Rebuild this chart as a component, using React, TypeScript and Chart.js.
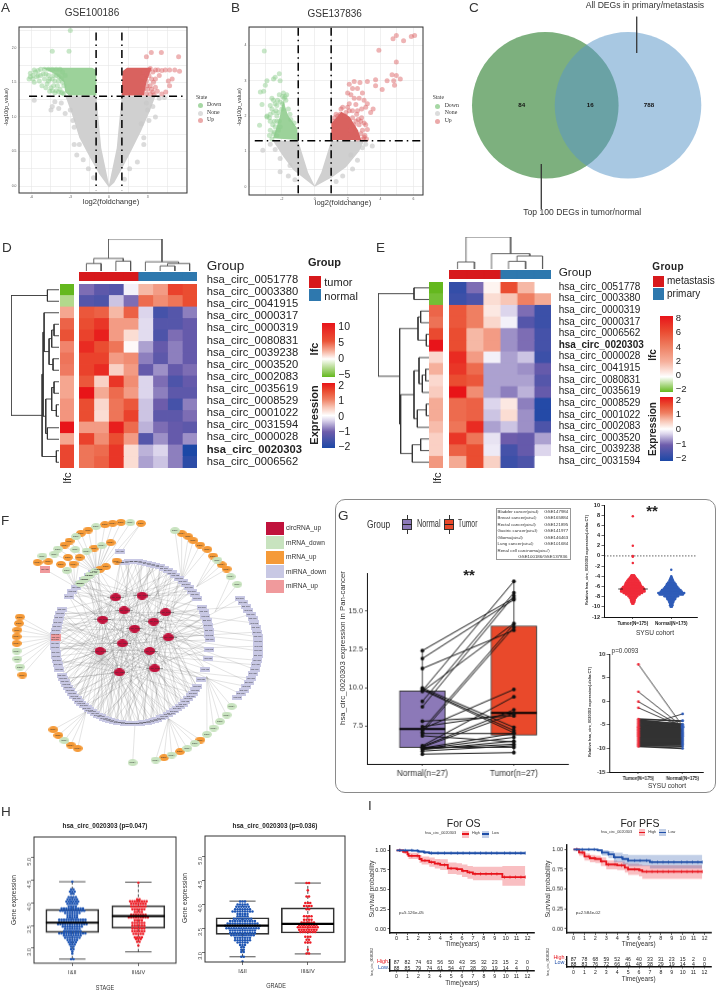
import React, { useEffect, useRef } from "react";
import { Chart, registerables } from "chart.js";
Chart.register(...registerables);
Chart.defaults.font.family = '"Liberation Sans", Arial, sans-serif';
Chart.defaults.layout.autoPadding = false;

/* ---------- A / B volcano data ---------- */
const volcanoAGrayArea = [[0,-0.02],[-0.75,0.17],[-1.5,0.42],[-2.3,0.7],[-2.8,1.0],[-3.3,1.26],[-3.4,1.3],[-0.98,1.3],[-0.6,0.55],[0,0.02],[0.6,0.55],[0.98,1.3],[3.6,1.3],[3.2,1.1],[2.5,0.8],[1.7,0.5],[1,0.25],[0.4,0.05]];
const volcanoAGreenArea = [[-0.98,1.31],[-0.98,1.68],[-1.3,1.71],[-5.2,1.71],[-4.2,1.62],[-3.5,1.5],[-3.4,1.36],[-3.1,1.31]];
const volcanoARedArea = [[0.98,1.31],[1.05,1.66],[1.4,1.71],[3.3,1.71],[2.9,1.5],[2.7,1.31]];
const volcanoAGray = [[-5.8,1.24],[-4.2,1.22],[-4.4,1.15],[-4.5,1.1],[-3.7,1.2],[-3.9,1.12],[-3.4,1.05],[-3,1.1],[-2.8,0.95],[-2.7,0.85],[-2.7,0.6],[-2.5,0.45],[-2.3,0.6],[-2,0.38],[-1.6,0.25],[-1.2,0.12],[2.9,1.2],[3.4,1.15],[3.6,1.0],[3.1,0.95],[2.7,0.6],[2.7,0.7],[2.2,0.35],[1.6,0.25],[3.0,1.1],[2.5,0.9],[1.2,0.1],[3.9,1.27],[4.3,1.28]];
const volcanoAGreen = [[-3,2.25],[-4.4,1.95],[-3.1,1.95],[-6.1,1.63],[-5.9,1.6],[-5.7,1.65],[-5.5,1.6],[-6.2,1.55],[-5.8,1.5],[-5.4,1.52],[-5,1.55],[-5.2,1.45],[-4.8,1.48],[-4.5,1.42],[-4.2,1.52],[-4,1.45],[-3.8,1.4],[-3.6,1.5],[-5.6,1.58],[-4.7,1.6],[-4.3,1.6],[-3.9,1.58],[-5.3,1.69],[-5,1.69],[-4.7,1.69],[-4.4,1.69],[-4.1,1.69],[-3.8,1.69],[-3.6,1.65],[-3.4,1.6],[-3.7,1.35],[-4.1,1.38],[-3.5,1.45],[-5.1,1.62],[-4.9,1.62],[-4.6,1.55],[-4.4,1.55],[-4.1,1.6],[-3.9,1.52],[-3.7,1.55],[-4.9,1.42],[-4.6,1.37],[-4.3,1.45],[-4.4,1.38],[-3.9,1.36],[-3.6,1.35],[-4.7,1.52],[-5.3,1.6],[-5.5,1.67],[-5.8,1.68],[-6.1,1.58],[-5.9,1.55],[-4.2,1.35],[-3.5,1.33]];
const volcanoARed = [[3.28,1.93],[4.06,1.93],[5.4,1.87],[2.9,1.87],[4.37,1.68],[4.7,1.68],[5.1,1.68],[5.47,1.66],[4.1,1.67],[3.6,1.68],[3.2,1.7],[4.9,1.55],[4.6,1.52],[4.7,1.45],[3.6,1.43],[3.2,1.45],[3,1.4],[3.75,1.37],[4.1,1.33],[3.4,1.36],[2.6,1.47],[2.9,1.52],[2.6,1.58],[3.1,1.6],[3.4,1.65],[2.9,1.33],[3.1,1.68],[4.4,1.36],[3.3,1.55],[3.45,1.5],[3.6,1.55],[3.8,1.68],[3.9,1.6],[2.95,1.62],[2.75,1.65],[2.7,1.4],[2.55,1.35],[3.2,1.33],[3.5,1.32],[2.95,1.45],[3.3,1.4]];
const volcanoBGrayArea = [[0,0],[-1.3,0.47],[-1.9,0.85],[-2.5,1.27],[-2.5,1.3],[-1,1.3],[-0.4,0.4],[0,0.03],[0.4,0.4],[1,1.3],[3,1.3],[2.7,1.0],[1.9,0.55],[1.1,0.28]];
const volcanoBGreenArea = [[-1.05,1.32],[-1.05,1.65],[-1.62,2.02],[-1.92,2.45],[-2.12,1.98],[-2.53,1.37]];
const volcanoBRedArea = [[1.01,1.32],[1.01,1.79],[1.62,2.12],[2.12,1.98],[2.63,1.6],[2.83,1.32]];
const volcanoBGray = [[-3.15,1.03],[-2.7,1.2],[-2.4,1.05],[-2.1,0.8],[-2.1,0.42],[-1.6,0.3],[-1.2,0.2],[3.5,1.15],[3.1,1.2],[2.9,1.1],[2.6,0.75],[2.3,0.5],[1.7,0.3],[1.3,0.15],[-1.5,0.6],[2.2,0.9]];
const volcanoBGreen = [[-3.06,3.84],[-2.9,3],[-2.5,3.05],[-2.15,3.2],[-2.4,3.1],[-2.1,3],[-3,2.87],[-3.3,2.68],[-3.1,2.7],[-3.2,2.33],[-3.35,1.74],[-2.6,2.5],[-2.5,2.45],[-1.9,2.65],[-1.8,2.55],[-2.3,2.3],[-2.9,2],[-2.7,1.85],[-2.3,2],[-2.4,1.7],[-2.1,1.7],[-2.5,1.5],[-2.9,1.97],[-2.7,2.05],[-2.1,2.4],[-1.85,2.5],[-2.6,2.2],[-2.45,1.85],[-2.7,1.6],[-2.3,1.45],[-2.6,1.35],[-2.0,2.2],[-1.75,2.45],[-1.7,2.6],[-1.95,2.55],[-2.15,2.6],[-2.25,2.45],[-1.6,2.2],[-1.5,2.05],[-2.35,2.15],[-2.5,2.1],[-2.7,2.3],[-2.75,1.95],[-2.3,1.85],[-2.55,1.75],[-2.75,1.45],[-2.2,1.6],[-2.45,1.55],[-2.15,1.85],[-2.2,2.1],[-1.45,1.9],[-1.25,1.8],[-1.95,2.35],[-2.4,2.35]];
const volcanoBRed = [[6.07,4.28],[5.87,4.25],[4.96,4.28],[4.76,4.19],[5.4,4.13],[3.9,3.86],[4.96,3.53],[4.7,3.17],[4.96,3.15],[5.2,3.05],[4.8,3],[4.4,3],[3.7,3.03],[3.2,2.98],[2.75,2.95],[2.4,2.98],[2.1,2.9],[4.85,2.87],[3.7,2.86],[4.1,2.75],[2.3,2.78],[2.6,2.78],[2.9,2.65],[2.2,2.6],[2.4,2.5],[2.7,2.5],[3,2.45],[2.1,2.35],[2.5,2.33],[3.2,2.35],[3.1,2.25],[2.85,2.2],[2.6,2.15],[2.3,2.15],[3.55,2.2],[3.0,1.8],[3.1,1.75],[2.85,1.95],[3.2,1.62],[2.8,1.5],[3,1.4],[2,2.65],[2.55,2.05],[1.6,2.2],[3.4,2.1],[1.2,1.95],[1.4,2],[1.7,2.25],[1.9,2.1],[2.1,2.15],[2.3,1.95],[2.5,1.85],[2.7,1.75],[2.9,1.6],[3.05,1.45],[3.15,1.35],[2.95,1.35],[2.8,1.85],[1.85,2],[1.55,2.05],[2,2.25],[2.65,1.9],[2.4,1.75],[2.2,1.6],[2.6,1.35],[1.3,2.05],[1.15,1.85]];

/* ---------- C ---------- */
const vennSets = ["Top 100 DEGs in tumor/normal", "All DEGs in primary/metastasis"];
const vennCounts = ["84", "16", "788"];

/* ---------- D / E heatmaps ---------- */
const genesD = ["hsa_circ_0051778","hsa_circ_0003380","hsa_circ_0041915","hsa_circ_0000317","hsa_circ_0000319","hsa_circ_0080831","hsa_circ_0039238","hsa_circ_0003520","hsa_circ_0002083","hsa_circ_0035619","hsa_circ_0008529","hsa_circ_0001022","hsa_circ_0031594","hsa_circ_0000028","hsa_circ_0020303","hsa_circ_0006562"];
const genesE = ["hsa_circ_0051778","hsa_circ_0003380","hsa_circ_0000319","hsa_circ_0000317","hsa_circ_0006562","hsa_circ_0020303","hsa_circ_0000028","hsa_circ_0041915","hsa_circ_0080831","hsa_circ_0035619","hsa_circ_0008529","hsa_circ_0001022","hsa_circ_0002083","hsa_circ_0003520","hsa_circ_0039238","hsa_circ_0031594"];
const exprD = [
[-0.9,-1.2,-1.3,-0.1,0.6,0.8,1.6,1.5],[-1.3,-1.4,-0.4,-0.9,1.2,0.9,1.1,1.5],[1.4,1.3,0.6,1.3,-0.3,-1.5,-1.3,-0.8],[1.5,1.7,0.8,0.8,-0.25,-1.3,-1.3,-1.1],
[1.6,1.9,0.8,0.3,-0.25,-1.4,-0.9,-1.1],[1.8,1.5,1.1,0.05,-0.6,-1.1,-0.8,-1.1],[1.6,1.6,0.8,0.9,-0.8,-1.2,-0.8,-1.1],[1.6,1.8,0.4,0.8,-1.1,-0.7,-1.1,-0.9],
[1.4,0.4,1.7,0.9,-0.3,-0.9,-1.4,-1.1],[2,0.7,1.2,0.8,-0.3,-0.8,-1.2,-1.2],[1.5,0.35,1.1,1.4,-0.4,-1,-1.5,-0.8],[1.5,0.3,1.1,1.6,-0.4,-1.2,-1.2,-0.9],
[0.8,0.8,1.9,1.2,-0.5,-0.9,-1.1,-1.2],[1.6,0.9,1.5,0.8,-1.3,-0.7,-1.1,-0.7],[1.1,1.2,1.7,0.3,-0.5,-0.3,-0.8,-2],[1.1,1.3,1.7,0.3,-0.6,-0.4,-0.8,-1.8]];
const lfcD = [-5,-2.5,2.5,4.5,5,3.5,4,3.8,2.5,2.5,3,3,10,2.5,6,6];
const exprE = [
[-1.7,-0.9,0.1,1.5,0.6,0],[-1.6,-1.4,0.3,0.5,1,0.7],[1.4,1,0.2,-0.3,-0.9,-1.6],[1.4,1,0.35,-0.1,-1.3,-1.6],
[1.5,0.6,0.8,-0.7,-0.9,-1.5],[1.5,0.6,0.8,-0.7,-0.9,-1.5],[1.8,0.8,-0.1,-0.6,-0.4,-1.6],[1.7,1.2,-0.6,-0.6,-0.7,-1.1],
[1.5,1.4,-0.6,-0.6,-0.6,-1.3],[2,0.9,-0.6,-0.8,-0.5,-1.1],[1.2,1.3,-0.3,0.2,-0.8,-1.9],[1.2,1.3,-0.4,0.3,-0.7,-1.9],
[1.1,1.8,-0.6,-0.4,-0.7,-1.4],[1.7,1.1,-0.2,-1,-1.1,-0.6],[1.3,1.5,-0.15,-1.5,-1.1,-0.3],[0.7,1.5,0.4,-1.6,-1.4,0]];
const lfcE = [-2,-1.8,5,4.5,6,8,1,2,1,1.3,2.2,2.2,1.7,1.2,1.2,3];
const colTreeD = [[0,1,22],[2,3,29],[8,9,37],[5,6,15],[11,7,22],[4,12,27],[10,13,94]];
const rowTreeD = [[0,1,35],[3,4,15],[17,5,22],[6,7,18],[18,19,30],[2,20,45],[8,9,15],[10,11,8],[22,23,22],[12,13,35],[24,25,40],[21,26,48],[14,15,8],[27,28,51],[16,29,145]];
const colTreeE = [[0,1,21],[3,4,23],[7,5,39],[2,8,46],[6,9,96]];
const rowTreeE = [[0,1,45],[2,3,25],[4,5,8],[17,18,33],[7,8,10],[20,9,20],[6,21,30],[10,11,8],[23,12,35],[13,14,25],[25,15,50],[22,24,45],[27,26,85],[19,28,88],[16,29,153]];

/* ---------- F network ---------- */
const hubNames = ["hsa_circ_0000317","hsa_circ_0000319","hsa_circ_0003380","hsa_circ_0006562","hsa_circ_0008529","hsa_circ_0020303","hsa_circ_0031594","hsa_circ_0001022","hsa_circ_0039238","hsa_circ_0041915","hsa_circ_0080831","hsa_circ_0035619","hsa_circ_0051778"];
const hubXY = [[347,352],[426,347],[372,391],[497,397],[308,419],[461,425],[404,446],[505,472],[367,490],[300,513],[449,513],[464,565],[358,577]];
const hubLinks = [
[0,3,6,9,12,15,18,95,97,99,101,103,84,86,88,80,76,70,60,52,44,30],
[1,4,7,10,13,16,19,21,24,92,96,98,100,78,72,64,56,48,40,33],
[2,5,8,11,14,17,90,93,94,97,102,82,74,66,58,50,42,36,29,26,61],
[20,22,23,25,27,28,31,34,37,45,55,65,75,85,91,94,103,6,12],
[100,101,102,103,96,97,89,87,83,79,71,63,53,46,38,32,24,16,8,2],
[21,18,15,12,9,35,39,43,47,51,59,67,77,81,93,99,3],
[0,5,10,15,20,25,30,35,40,45,50,55,60,65,70,75,80,85,90,95,100],
[19,23,27,29,31,33,36,41,49,57,62,68,73,86,92,98,14,7],
[2,7,12,17,22,28,32,37,42,47,52,57,62,67,72,77,82,87,92,97,102],
[0,4,8,13,18,26,34,38,41,44,46,48,50,52,54,56,58,60,62,64,66,68,70,72,74,76,78,80,82,84,86,88,90,92,94,96,98,101,103],
[11,16,21,26,31,36,41,46,51,56,61,66,71,76,81,86,91,96,1,6],
[24,28,33,39,43,49,53,59,63,69,73,79,83,89,93,99,9,14],
[5,11,17,23,29,35,43,49,54,58,61,64,69,74,79,83,88,91,95,100,101]];
const hubOuterLinks = [[3,2],[3,6],[5,9],[7,0],[7,4],[7,8],[7,12],[7,16],[6,10],[10,14],[11,18],[11,20],[10,22],[9,11],[9,15],[6,19]];
const mrnaUpXY = [[423,130],[363,127],[338,130],[315,134],[265,150],[243,160],[209,183],[194,195],[283,204],[332,188],[239,232],[204,232],[221,252],[183,253],[145,245],[113,247],[350,243],[318,260],[300,268],[545,160],[565,170],[580,182],[600,195],[622,208],[639,228],[665,254],[680,267],[60,411],[57,430],[52,450],[50,470],[50,490],[67,585],[160,749],[175,766],[212,795],[233,805],[492,833],[540,815],[601,780]];
const mrnaDownXY = [[391,128],[288,140],[228,170],[174,207],[163,222],[226,209],[260,213],[305,197],[201,272],[127,228],[285,275],[270,285],[255,297],[240,310],[525,152],[652,240],[692,290],[712,313],[50,513],[52,537],[60,561],[193,782],[398,848],[467,840],[515,825],[562,805],[585,790],[621,763],[641,744],[660,725],[680,705],[695,679]];
const mirnaUpXY = [[135,268],[167,471]];
const mirnaExtraXY = [[360,215]];
const mrnaFans = [
{ target:[290,280], from:[[423,130],[391,128],[363,127],[338,130],[315,134],[288,140],[265,150],[243,160],[228,170],[209,183],[194,195],[174,207],[163,222],[226,209],[260,213],[283,204],[305,197],[332,188]] },
{ target:[362,218], from:[[423,130]] },
{ target:[225,320], from:[[239,232],[204,232],[221,252],[183,253],[201,272],[135,268]] },
{ target:[545,300], from:[[525,152],[545,160],[565,170],[580,182],[600,195],[622,208]] },
{ target:[590,320], from:[[639,228],[652,240],[665,254],[680,267]] },
{ target:[645,395], from:[[692,290],[712,313]] },
{ target:[167,471], from:[[60,411],[57,430],[52,450],[50,470],[50,490],[50,513],[52,537],[60,561],[67,585]] },
{ target:[258,695], from:[[160,749],[175,766],[193,782],[212,795],[233,805]] },
{ target:[405,730], from:[[398,848]] },
{ target:[505,715], from:[[467,840],[492,833],[515,825],[540,815],[562,805],[585,790],[601,780]] },
{ target:[620,590], from:[[621,763],[641,744],[660,725],[680,705],[695,679]] }];
const networkLegend = [["circRNA_up","#c0123c"],["mRNA_down","#c8e3bf"],["mRNA_up","#f59a38"],["miRNA_down","#c8c8e4"],["miRNA_up","#f09a9c"]];

/* ---------- G ---------- */
const pairNormal = [12.42,11.9,11.25,9.98,9.9,9.85,9.8,9.75,9.1,8.75,7.8,7.45,7.3,7.25,7.1,7,6.85,6.2,6.15,6.1,6.05,6,5.95,6,5.85,5.65,6.1];
const pairTumor = [15.85,15.75,13.75,7.4,7.2,7.05,16.95,14.2,16.2,16,8.15,8.3,9.88,14.15,13.95,7,6.45,9.4,8.55,8.3,7,6.75,6.5,6.3,6.2,5.75,6.1];
const boxNormal = { lo:5.6, q1:6.08, med:7.3, q3:9.78, hi:12.42 };
const boxTumor = { lo:5.75, q1:6.89, med:8.35, q3:14.04, hi:16.95 };
const sysuTumorRows = [[7.8,1],[2,1],[0,1],[-0.15,1],[-1.4,1],[-3.8,3],[-4,4],[-4.3,6],[-4.6,8],[-4.9,10],[-5.2,12],[-5.5,13],[-5.8,14],[-6.1,17],[-6.4,19],[-6.7,20],[-7,20],[-7.3,16],[-7.6,12],[-7.9,8],[-8.2,6],[-8.5,4],[-8.8,4],[-9.1,3],[-9.4,2]];
const sysuNormalRows = [[-2.7,1],[-4,1],[-4.3,2],[-4.6,3],[-4.9,4],[-5.2,6],[-5.5,8],[-5.8,9],[-6.1,11],[-6.4,13],[-6.7,16],[-7,18],[-7.3,22],[-7.6,20],[-7.9,12],[-8.2,8],[-8.5,7],[-8.8,5],[-9.1,4],[-9.4,3],[-9.7,3],[-10,2]];
const sysuPairTumor = [7.8,2,-0.1,-1.4,-3.8,-4,-4.2,-4.4,-4.6,-4.8,-5,-5.2,-5.4,-5.6,-5.8,-6,-6.2,-6.4,-6.6,-6.8,-7,-7.2,-7.4,-7.6,-7.8,-8,-8.2,-8.4,-8.6,-8.8,-9,-9.2,-9.4,-9.6,-5.5,-6.1];
const sysuPairNormal = [-5.3,-5.4,-5.5,-5.5,-4.2,-4.9,-5,-5.1,-5.2,-5.3,-5.4,-5.5,-5.6,-5.7,-5.8,-6,-6.2,-6.4,-6.6,-6.8,-7,-7.2,-7.4,-7.6,-7.8,-8,-8.2,-8.4,-8.6,-8.8,-9,-9.2,-9.5,-10,-2.7,-4.1];
const cancerTable = [["Bladder cancer","(pairs=4):","GSE147984"],["Breast cancer","(pairs=4):","GSE165884"],["Rectal cancer","(pairs=3):","GSE121895"],["Gastric cancer","(pairs=3):","GSE141977"],["Glioma","(pairs=3):","GSE146463"],["Lung cancer","(pairs=4):","GSE101684"]];

/* ---------- H ---------- */
const stageBlueRows = [[4.47,1],[4.3,2],[4.25,3],[4.2,2],[4.13,4],[4.08,5],[4.03,6],[3.98,5],[3.93,4],[3.88,10],[3.83,11],[3.78,7],[3.73,5],[3.68,5],[3.63,12],[3.58,12],[3.53,13],[3.48,9],[3.43,7],[3.38,8],[3.33,12],[3.28,8],[3.23,7],[3.18,5],[3.13,4],[3.08,3],[3.03,2],[2.98,2],[2.93,1],[2.88,1],[2.76,2]];
const stageRedRows = [[4.45,1],[4.08,2],[4.04,8],[3.98,7],[3.92,7],[3.86,6],[3.8,4],[3.74,7],[3.68,9],[3.62,4],[3.56,6],[3.5,6],[3.44,6],[3.38,6],[3.32,5],[3.24,4],[3.2,3],[3.14,2],[3.06,1]];
const gradeBlueRows = [[4.06,3],[4,5],[3.95,6],[3.9,7],[3.85,9],[3.8,5],[3.75,5],[3.7,8],[3.65,11],[3.6,13],[3.55,15],[3.5,14],[3.45,11],[3.4,11],[3.35,10],[3.3,7],[3.25,7],[3.2,5],[3.15,3],[3.1,2],[3.05,2],[3,2],[2.9,2],[2.8,1]];
const gradeRedRows = [[4.45,2],[4.3,1],[4.17,2],[4.03,3],[3.97,4],[3.9,2],[3.75,4],[3.68,4],[3.62,6],[3.57,8],[3.52,9],[3.47,8],[3.42,7],[3.32,3],[3.26,2],[3.2,3],[3.05,1],[2.97,2]];
const stageBoxes = [{ lo:2.76, q1:3.35, med:3.565, q3:3.86, hi:4.47 },{ lo:2.92, q1:3.44, med:3.71, q3:3.94, hi:4.46 }];
const gradeBoxes = [{ lo:2.9, q1:3.37, med:3.555, q3:3.72, hi:4.07 },{ lo:2.96, q1:3.4, med:3.59, q3:3.93, hi:4.45 }];

/* ---------- I ---------- */
const osHighT = [0,0.6,1,1.1,2,2.1,2.3,3,3.5,4,4.7,5.5,6,6.5,7,9.7,11.8];
const osHighS = [1,0.98,0.95,0.93,0.93,0.89,0.87,0.85,0.83,0.815,0.77,0.76,0.74,0.72,0.7,0.66,0.66];
const osHighU = [1,0.995,0.98,0.97,0.965,0.94,0.92,0.91,0.89,0.885,0.845,0.835,0.82,0.8,0.79,0.8,0.8];
const osHighL = [1,0.96,0.92,0.89,0.89,0.84,0.82,0.79,0.77,0.75,0.7,0.69,0.66,0.64,0.62,0.55,0.55];
const osLowT = [0,1.5,2,2.5,3,11.8];
const osLowS = [1,0.995,0.985,0.975,0.965,0.965];
const osLowU = [1,1,0.995,0.99,0.985,0.985];
const osLowL = [1,0.985,0.97,0.955,0.945,0.945];
const pfsHighT = [0,0.5,1,1.5,2,2.5,3,4,4.7,5,6,6.3,11.8];
const pfsHighS = [1,0.96,0.91,0.89,0.88,0.85,0.81,0.8,0.77,0.75,0.74,0.72,0.72];
const pfsHighU = [1,0.99,0.95,0.93,0.92,0.9,0.86,0.85,0.83,0.82,0.81,0.8,0.8];
const pfsHighL = [1,0.92,0.86,0.84,0.83,0.79,0.75,0.74,0.71,0.68,0.66,0.63,0.61];
const pfsLowT = [0,2.2,2.6,3.2,3.7,4.5,5,6.9,7,11.8];
const pfsLowS = [1,0.99,0.96,0.94,0.9,0.88,0.86,0.86,0.84,0.84];
const pfsLowU = [1,1,0.99,0.98,0.96,0.94,0.93,0.93,0.93,0.93];
const pfsLowL = [1,0.97,0.92,0.89,0.84,0.81,0.79,0.79,0.76,0.76];
const censorTimes = [0.3,0.8,1.4,1.9,2.6,3.2,3.8,4.4,5,5.6,6.1,6.7,7.2,7.7,8.2,8.7,9.2,9.9,10.4,10.9,11.4,11.8];
const yearTicks = [0,1,2,3,4,5,6,7,8,9,10,11,12];
const riskOSHigh = [87,82,74,63,56,50,43,35,32,23,15,2,0];
const riskOSLow = [88,85,79,74,61,54,47,38,30,19,14,4,0];
const riskPFSHigh = [87,78,68,59,52,46,40,33,31,23,15,2,0];
const riskPFSLow = [88,83,76,72,66,61,48,38,29,19,14,4,0];

/* ---------- colours ---------- */
const EXPR_STOPS = [[-2,"#1c48a6"],[-1,"#6d5cab"],[-0.3,"#dcd5ec"],[0,"#ffffff"],[0.5,"#f8c6b6"],[1,"#ef7f62"],[1.5,"#ea4d31"],[2,"#e81418"]];
const LFC_D_STOPS = [[-5,"#64b81e"],[-2.5,"#b2d98c"],[0,"#ffffff"],[2.5,"#f5a690"],[5,"#ea5236"],[10,"#e8141a"]];
const LFC_E_STOPS = [[-2,"#64b81e"],[0,"#ffffff"],[2,"#f6b09c"],[4,"#ee7f62"],[6,"#ea4a30"],[8,"#e8141a"]];
const hex = (h) => [1,3,5].map((i) => parseInt(h.slice(i,i+2),16));
function colorOf(stops, v) {
  for (let i = 1; i < stops.length; i++) {
    if (v <= stops[i][0]) {
      const t = Math.max(0,(v-stops[i-1][0])/(stops[i][0]-stops[i-1][0]));
      const a = hex(stops[i-1][1]), b = hex(stops[i][1]);
      return `rgb(${a.map((c,k)=>Math.round(c+(b[k]-c)*t)).join(",")})`;
    }
  }
  return stops[stops.length-1][1];
}
const gradient = (stops) => {
  const lo = stops[0][0], hi = stops[stops.length-1][0];
  return `linear-gradient(to top, ${stops.map(([v,c]) => `${c} ${((v-lo)/(hi-lo))*100}%`).join(",")})`;
};

/* ---------- chart helpers ---------- */
const pts = (a) => a.map(([x,y]) => ({ x, y }));
const frame = (color, width) => ({
  id: "frame",
  afterDatasetsDraw(c) {
    const { left, top, right, bottom } = c.chartArea, g = c.ctx;
    g.save(); g.strokeStyle = color; g.lineWidth = width;
    g.strokeRect(left, top, right-left, bottom-top); g.restore();
  },
});
function axis(min, max, ticks, o: any = {}) {
  const fmt = o.fmt || ((v) => String(v));
  return {
    type: "linear", min, max, offset:false,
    afterBuildTicks: (s) => { s.ticks = ticks.map((value) => ({ value })); },
    ticks: { autoSkip:false, minRotation:o.rot||0, maxRotation:o.rot||0, padding:o.pad??1.5,
      font:{ size:o.size||5, weight:o.weight||"normal", family:o.family||undefined }, color:o.color||"#222", callback:(v)=>fmt(v) },
    grid: { display:true, offset:false, drawOnChartArea:!!o.gridColor, color:o.gridColor||(o.tickColor||"#222"), lineWidth:o.gridWidth||0.6,
      drawTicks:o.tick!==0, tickLength:o.tick??2.5, tickColor:o.tickColor||"#222", tickWidth:o.tickWidth||0.7 },
    border: { display:o.border!==false, color:o.borderColor||"#111", width:o.borderWidth||1 },
  };
}
function plotChart(plot, x, y, datasets, plugins: any[] = [], type = "scatter", m: any = {}) {
  const [x0,y0,x1,y1] = plot;
  const l = m.l??30, r = m.r??14, t = m.t??8, b = m.b??22;
  x.afterFit = (s) => { s.height = b; };
  y.afterFit = (s) => { s.width = l; };
  datasets.forEach((d,i) => { d.order = -i; });
  return { rect:[x0-l,y0-t,x1-x0+l+r,y1-y0+t+b], config:{ type, data:{ datasets }, plugins,
    options:{ responsive:false, animation:false, events:[], layout:{ autoPadding:false, padding:{ top:t,right:r,left:0,bottom:0 } },
      plugins:{ legend:{display:false}, tooltip:{enabled:false} }, scales:{ x, y } } } };
}
const line = (a, color, width, extra: any = {}) => ({ type:"line", data:pts(a), borderColor:color, borderWidth:width, pointRadius:0, fill:false, tension:0, ...extra });
const dots = (a, color, r, extra: any = {}) => ({ type:"scatter", data:pts(a), backgroundColor:color, borderWidth:0, pointRadius:r, ...extra });
const area = (a, color) => ({ type:"scatter", showLine:true, data:pts(a), backgroundColor:color, borderWidth:0, borderColor:"transparent", pointRadius:0, fill:"shape" });
const swarm = (rows, center, step) => rows.flatMap(([v,n]) => Array.from({ length:n }, (_,i) => [center+(i-(n-1)/2)*step, v]));

function heat(rect, rows, colsLabels, colorsByRowCol) {
  const datasets = colsLabels.map((lab,c) => ({ label:lab, data:rows.map(()=>1), backgroundColor:rows.map((_,r)=>colorsByRowCol(r,c)), borderWidth:0, barPercentage:1, categoryPercentage:1, inflateAmount:0.4 }));
  return { rect, config:{ type:"bar", data:{ labels:rows, datasets }, options:{ indexAxis:"y", responsive:false, animation:false, events:[], layout:{autoPadding:false,padding:0},
    plugins:{ legend:{display:false}, tooltip:{enabled:false} },
    scales:{ x:{ stacked:true, display:false, min:0, max:colsLabels.length, offset:false }, y:{ stacked:true, display:false, type:"category" } } } } };
}
function treeSegments(n, merges) {
  const pos = Array.from({ length:n }, (_,i) => ({ c:i+0.5, h:0 }));
  const out: any[] = [];
  merges.forEach(([a,b,h]) => {
    const A = pos[a], B = pos[b];
    out.push({x:A.c,y:A.h},{x:A.c,y:h},{x:B.c,y:h},{x:B.c,y:B.h},{x:NaN,y:NaN});
    pos.push({ c:(A.c+B.c)/2, h });
  });
  return out;
}
function tree(rect, n, merges, vertical, color = "#555") {
  const seg = treeSegments(n, merges);
  const maxH = Math.max(...merges.map((m)=>m[2]));
  const data = vertical ? seg : seg.map((p)=>({ x:p.y, y:p.x }));
  const lin = (min,max,rev=false) => ({ type:"linear", display:false, min, max, reverse:rev });
  return { rect, config:{ type:"scatter", data:{ datasets:[{ showLine:true, data, borderColor:color, borderWidth:0.9, pointRadius:0, clip:false, spanGaps:false }] },
    options:{ responsive:false, animation:false, events:[], layout:{autoPadding:false,padding:0}, plugins:{ legend:{display:false}, tooltip:{enabled:false} },
      scales: vertical ? { x:lin(0,n), y:lin(0,maxH) } : { x:lin(0,maxH,true), y:lin(0,n,true) } } } };
}
function volcano(plot, s) {
  const x = axis(s.xr[0], s.xr[1], s.xGrid, { size:3.4, color:"#555", tick:0, pad:2.5, gridColor:"#e6e6e6", border:false, fmt:(v)=> s.xLab.includes(v)?String(v):"" });
  const y = axis(s.yr[0], s.yr[1], s.yGrid, { size:3.4, color:"#555", tick:0, pad:2.5, gridColor:"#e6e6e6", border:false, fmt:(v)=> s.yLab.includes(v)?s.yFmt(v):"" });
  const dash = [8,4,1.5,4];
  return plotChart(plot, x, y, [
    area(s.grayArea, "#d0d0d0"), dots(s.gray, "rgba(200,200,200,.65)", 2.5),
    area(s.greenArea, "#9cd29a"), dots(s.green, "rgba(140,205,140,.48)", 2.5),
    area(s.redArea, "#d9625f"), dots(s.red, "rgba(219,98,100,.48)", 2.5),
    line(s.v1, "#000", 1.5, { borderDash:dash }), line(s.v2, "#000", 1.5, { borderDash:dash }), line(s.h, "#000", 1.5, { borderDash:dash }),
  ], [frame("#333",1)]);
}
function boxSets(xc, b, capHalf, barPx, style) {
  return [
    line([[xc,b.lo],[xc,b.hi]], style.whisker||"#222", style.wWidth||0.8, style.wDash?{borderDash:style.wDash}:{}),
    ...(capHalf ? [line([[xc-capHalf,b.lo],[xc+capHalf,b.lo]],"#222",0.8), line([[xc-capHalf,b.hi],[xc+capHalf,b.hi]],"#222",0.8)] : []),
    { type:"bar", data:[{ x:xc, y:[b.q1,b.q3] }], barThickness:barPx, backgroundColor:style.fill, borderColor:style.stroke, borderWidth:style.sw||1, borderSkipped:false, grouped:false },
  ];
}
function kmChart(plot, highSets, lowSets) {
  const x = axis(-0.6, 12.6, yearTicks, { size:5.5, borderWidth:1.4, tickColor:"#111", tick:2, pad:0.5 });
  const y = axis(-0.051, 1.055, [0,0.25,0.5,0.75,1], { size:5.5, borderWidth:1.4, fmt:(v)=>v.toFixed(2), tickColor:"#111" });
  const curve = (T,S,U,L,col,band) => {
    const stepAt = (t) => { let v = S[0]; T.forEach((tt,i)=>{ if (tt<=t) v=S[i]; }); return v; };
    return [
      { type:"line", data:pts(T.map((t,i)=>[t,U[i]])), stepped:true, borderWidth:0, pointRadius:0, backgroundColor:band, fill:"+1" },
      { type:"line", data:pts(T.map((t,i)=>[t,L[i]])), stepped:true, borderWidth:0, pointRadius:0, fill:false },
      { type:"line", data:pts(T.map((t,i)=>[t,S[i]])), stepped:true, borderColor:col, borderWidth:1.8, pointRadius:0, fill:false },
      { type:"scatter", data:pts(censorTimes.map((t)=>[t,stepAt(t)])), pointStyle:"line", rotation:90, pointRadius:1.6, borderColor:col, borderWidth:0.7 },
    ];
  };
  return plotChart(plot, x, y, [...curve(...highSets,"#e8141c","rgba(232,20,28,.27)"), ...curve(...lowSets,"#1f4fa8","rgba(31,79,168,.27)")]);
}
function riskChart(plot, high, low) {
  const x = axis(-0.6, 12.6, yearTicks, { size:5.2, borderWidth:1.4, tickColor:"#111", tick:1.5, pad:0.5 });
  const y = axis(0, 2, [0.5,1.5], { size:0.1, borderWidth:1.4, fmt:()=>"", tickColor:"#111", tick:1.5 });
  const writer = { id:"riskNumbers", afterDatasetsDraw(c) {
    const g = c.ctx; g.save(); g.font = "5.2px 'Liberation Sans'"; g.fillStyle = "#222"; g.textAlign = "center"; g.textBaseline = "middle";
    yearTicks.forEach((t,i) => {
      g.fillText(String(high[i]), c.scales.x.getPixelForValue(t), c.scales.y.getPixelForValue(1.5));
      g.fillText(String(low[i]), c.scales.x.getPixelForValue(t), c.scales.y.getPixelForValue(0.5));
    });
    g.restore();
  } };
  return plotChart(plot, x, y, [dots(yearTicks.map((t,i)=>[t,1.5]),"transparent",0)], [writer], "scatter", { t:3, b:16 });
}
function hChart(plot, yr, xr, boxes, blue, red, step) {
  const x = axis(xr[0], xr[1], [1,2], { size:5.6, color:"#333", tickColor:"#333", border:false, pad:3, tick:3, fmt:(v)=>(v===1?"I&II":"III&IV") });
  const y = axis(yr[0], yr[1], [3,3.5,4,4.5,5], { size:5.6, color:"#444", tickColor:"#333", border:false, rot:90, tick:3, pad:2, fmt:(v)=>v.toFixed(1) });
  const st = { fill:"rgba(0,0,0,0)", stroke:"#333", sw:1, wDash:[3,2], whisker:"#222" };
  return plotChart(plot, x, y, [
    ...boxSets(1, boxes[0], 0.2, 53, st), ...boxSets(2, boxes[1], 0.2, 53, st),
    dots(swarm(blue,1,step), "#1f56b4", 1.25), dots(swarm(red,2,step), "#ee1c25", 1.25),
    line([[0.6,boxes[0].med],[1.4,boxes[0].med]],"#000",2.2), line([[1.6,boxes[1].med],[2.4,boxes[1].med]],"#000",2.2),
  ], [frame("#333",1)]);
}
function nodeImg(w, h, color, shape) {
  const c = document.createElement("canvas"); c.width = w; c.height = h;
  const g = c.getContext("2d"); g.fillStyle = color; g.beginPath();
  if (shape === "e") { g.ellipse(w/2,h/2,w/2,h/2,0,0,Math.PI*2); g.fill(); } else { g.fillRect(0,0,w,h); }
  return c;
}
function networkChart() {
  const arcs = [[-99,-33,21],[-26,-2,8],[5,11,2],[19,27,2],[33,101,26],[104,156,22],[161,204,15],[215,244,8]];
  const ring = arcs.flatMap(([a,b,n]) => Array.from({ length:n }, (_,i) => {
    const d = (a+(b-a)*i/Math.max(1,n-1))*Math.PI/180;
    return [397+232*Math.cos(d), 488+243*Math.sin(d)];
  }));
  const outer = Array.from({ length:24 }, (_,i) => { const d=(-42+87*i/23)*Math.PI/180; return [560+215*Math.cos(d), 500+215*Math.sin(d)]; });
  const edge = (a,b) => [{x:a[0],y:a[1]},{x:b[0],y:b[1]},{x:NaN,y:NaN}];
  const hubEdges = hubLinks.flatMap((l,h) => l.flatMap((k) => edge(hubXY[h], ring[k])));
  const outerEdges = hubOuterLinks.flatMap(([h,k]) => edge(hubXY[h], outer[k]));
  const fanEdges = mrnaFans.flatMap((f) => f.from.flatMap((p) => edge(f.target,p)));
  const nodes = (a,img,w,name) => ({ showLine:false, data:pts(a), pointStyle:img, pointRadius:3, borderWidth:0, clip:false, labelText:name });
  const edgeSet = (d) => ({ showLine:true, data:d, borderColor:"rgba(110,110,110,.42)", borderWidth:0.45, pointRadius:0, spanGaps:false, clip:false });
  const datasets: any[] = [
    edgeSet(hubEdges), edgeSet(outerEdges), edgeSet(fanEdges),
    nodes(ring, nodeImg(10,5,"#c8c8e4","r"), 10, "hsa-miR"),
    nodes(outer, nodeImg(10,5,"#c8c8e4","r"), 10, "hsa-miR"),
    nodes(mirnaExtraXY, nodeImg(10,5,"#c8c8e4","r"), 10, "hsa-miR"),
    nodes(mirnaUpXY, nodeImg(10,7,"#f09a9c","r"), 10, "hsa-miR"),
    nodes(mrnaUpXY, nodeImg(10,7,"#f59a38","e"), 10, "mRNA"),
    nodes(mrnaDownXY, nodeImg(10,7,"#c8e3bf","e"), 10, "mRNA"),
    nodes(hubXY, nodeImg(11,8,"#c0123c","e"), 11, ""),
  ];
  const tiny = { id:"tinyNames", afterDatasetsDraw(c) {
    const g = c.ctx; g.save(); g.font = "2.1px 'Liberation Sans'"; g.fillStyle = "#333"; g.textAlign = "center"; g.textBaseline = "middle";
    datasets.forEach((d) => { if (d.labelText) d.data.forEach((p) => g.fillText(d.labelText, c.scales.x.getPixelForValue(p.x), c.scales.y.getPixelForValue(p.y))); });
    hubNames.forEach((n,i) => g.fillText(n, c.scales.x.getPixelForValue(hubXY[i][0]), c.scales.y.getPixelForValue(hubXY[i][1])));
    g.restore();
  } };
  datasets.forEach((d,i) => { d.order = -i; });
  const lin = (max,rev=false) => ({ type:"linear", display:false, min:0, max, reverse:rev });
  return { rect:[0,480,330,300], config:{ type:"scatter", data:{ datasets }, plugins:[tiny],
    options:{ responsive:false, animation:false, events:[], layout:{autoPadding:false,padding:0}, plugins:{ legend:{display:false}, tooltip:{enabled:false} }, scales:{ x:lin(990), y:lin(900,true) } } } };
}
function vennChart() {
  const lin = (min,max,rev=false) => ({ type:"linear", display:false, min, max, reverse:rev });
  return { rect:[465,0,253,220], config:{ type:"bubble",
    data:{ datasets:[
      { label:vennSets[0], data:[{ x:80.3,y:105.3,r:73.3 }], backgroundColor:"#7db07e", borderWidth:0, order:2, clip:false },
      { label:vennSets[1], data:[{ x:163,y:105.3,r:73.3 }], backgroundColor:"rgba(90,151,200,.527)", borderWidth:0, order:1, clip:false },
      { type:"line", data:pts([[171.7,16.7],[171.7,53]]), borderColor:"#333", borderWidth:0.7, pointRadius:0, order:0 },
      { type:"line", data:pts([[76.3,164],[76.3,209]]), borderColor:"#333", borderWidth:0.7, pointRadius:0, order:0 },
    ] },
    options:{ responsive:false, animation:false, events:[], layout:{autoPadding:false,padding:0}, plugins:{ legend:{display:false}, tooltip:{enabled:false} }, scales:{ x:lin(0,253), y:lin(0,220,true) } } } };
}

function buildCharts() {
  const list: any[] = [];
  list.push(volcano([19.3,26.7,187.3,192.7], { xr:[-6.98,6.05], yr:[-0.1,2.3], xGrid:[-6,-4.5,-3,-1.5,0,1.5,3,4.5,6], xLab:[-6,-3,0,3], yGrid:[0,0.25,0.5,0.75,1,1.25,1.5,1.75,2,2.25], yLab:[0,0.5,1,1.5,2], yFmt:(v)=>v.toFixed(1),
    grayArea:volcanoAGrayArea, gray:volcanoAGray, greenArea:volcanoAGreenArea, green:volcanoAGreen, redArea:volcanoARedArea, red:volcanoARed,
    v1:[[-1,2.22],[-1,-0.06]], v2:[[1,2.22],[1,-0.06]], h:[[-6.2,1.3],[5.95,1.3]] }));
  list.push(volcano([249.3,26.7,423.3,195], { xr:[-3.99,6.58], yr:[-0.235,4.52], xGrid:[-3,-2,-1,0,1,2,3,4,5,6], xLab:[-2,0,2,4,6], yGrid:[0,0.5,1,1.5,2,2.5,3,3.5,4,4.5], yLab:[0,1,2,3,4], yFmt:(v)=>String(v),
    grayArea:volcanoBGrayArea, gray:volcanoBGray, greenArea:volcanoBGreenArea, green:volcanoBGreen, redArea:volcanoBRedArea, red:volcanoBRed,
    v1:[[-1,4.5],[-1,-0.22]], v2:[[1,4.5],[1,-0.22]], h:[[-3.64,1.3],[6.58,1.3]] }));
  list.push(vennChart());

  const colsD = ["T1","T2","T3","T4","N1","N2","N3","N4"], colsE = ["M1","M2","M3","P1","P2","P3"];
  list.push(heat([78.7,284.3,118,184], genesD, colsD, (r,c)=>colorOf(EXPR_STOPS,exprD[r][c])));
  list.push(heat([78.7,271.7,118,9.3], ["Group"], colsD, (_,c)=>(c<4?"#d7191c":"#2e78ae")));
  list.push(heat([60,284.3,14,184], genesD, ["lfc"], (r)=>colorOf(LFC_D_STOPS,lfcD[r])));
  list.push(tree([78.7,239.3,118,31.4], 8, colTreeD, true));
  list.push(tree([11,284.3,48.3,184], 16, rowTreeD, false, "#333"));

  list.push(heat([449.3,281.7,101.4,186.6], genesE, colsE, (r,c)=>colorOf(EXPR_STOPS,exprE[r][c])));
  list.push(heat([449.3,270,101.4,9], ["Group"], colsE, (_,c)=>(c<3?"#d7191c":"#2e78ae")));
  list.push(heat([429,281.7,14.3,186.6], genesE, ["lfc"], (r)=>colorOf(LFC_E_STOPS,lfcE[r])));
  list.push(tree([449.3,236.7,101.4,32], 6, colTreeE, true));
  list.push(tree([378,281.7,51,186.6], 16, rowTreeE, false, "#333"));

  list.push(networkChart());

  // G pan-cancer paired box plot
  {
    const x = axis(0.394,2.592,[1,2],{ size:8.4, color:"#333", tick:2, pad:3, fmt:(v)=>(v===1?"Normal(n=27)":"Tumor(n=27)") });
    const y = axis(5.01,17.49,[7.5,10,12.5,15],{ size:7.4, color:"#333", tick:2, pad:2, fmt:(v)=>v.toFixed(1) });
    const pairs = pairNormal.map((n,i)=>line([[1,n],[2,pairTumor[i]]],"#111",1,{ pointRadius:1.9, pointBackgroundColor:"#111", pointBorderWidth:0 }));
    list.push(plotChart([366.7,573.3,568.3,763.7], x, y, [
      ...boxSets(1,boxNormal,0,46,{ fill:"#8c79b8", stroke:"#333", sw:1, whisker:"#111" }),
      ...boxSets(2,boxTumor,0,46,{ fill:"#e9492b", stroke:"#333", sw:1, whisker:"#111" }),
      line([[0.75,boxNormal.med],[1.25,boxNormal.med]],"#000",2), line([[1.75,boxTumor.med],[2.25,boxTumor.med]],"#000",2),
      ...pairs,
    ], [], "bar"));
  }
  // G SYSU swarm
  {
    const names = (v)=>(v===1?"Tumor(N=175)":"Normal(N=175)");
    const x = axis(0.25,2.67,[1,2],{ size:4.6, weight:"bold", tick:2, pad:1.5, fmt:names });
    const y = axis(-12,10,[-12,-10,-8,-6,-4,-2,0,2,4,6,8,10],{ size:5.6, weight:"bold", tick:2.5, pad:1.5 });
    list.push(plotChart([604,505,696.7,616.7], x, y, [
      line([[0.25,0],[2.67,0]],"#222",0.7,{ borderDash:[1.5,1.5] }),
      dots(swarm(sysuTumorRows,1,0.032),"#ef2b3a",1.25), dots(swarm(sysuNormalRows,2,0.032),"#2f5cb8",1.25),
      line([[0.62,-6.5],[0.74,-6.5]],"#111",0.8), line([[1.27,-6.5],[1.39,-6.5]],"#111",0.8),
    ]));
  }
  // G SYSU paired
  {
    const names = (v)=>(v===1?"Tumor(N=175)":"Normal(N=175)");
    const x = axis(0.34,2.46,[1,2],{ size:4.6, weight:"bold", tick:2, pad:1.5, fmt:names });
    const y = axis(-15,10,[-15,-10,-5,0,5,10],{ size:5.6, weight:"bold", tick:2.5, pad:1.5 });
    const pairsP = sysuPairTumor.map((t,i)=>line([[1,t],[2,sysuPairNormal[i]]],"#333",i<4||i>33?0.9:1.7));
    list.push(plotChart([609.3,654,702.7,771.7], x, y, [
      ...pairsP,
      dots(sysuPairTumor.map((v)=>[1,v]),"#ef2b3a",1.35), dots(sysuPairNormal.map((v)=>[2,v]),"#2f5cb8",1.35),
    ]));
  }
  list.push(hChart([34,836.7,176,963.3],[2.67,5.46],[0.42,2.57],stageBoxes,stageBlueRows,stageRedRows,0.036));
  list.push(hChart([204.7,836,345,961.7],[2.79,5.44],[0.425,2.57],gradeBoxes,gradeBlueRows,gradeRedRows,0.038));
  list.push(kmChart([390,846,534.3,932.7],[osHighT,osHighS,osHighU,osHighL],[osLowT,osLowS,osLowU,osLowL]));
  list.push(kmChart([566.7,845.3,710.7,932.7],[pfsHighT,pfsHighS,pfsHighU,pfsHighL],[pfsLowT,pfsLowS,pfsLowU,pfsLowL]));
  list.push(riskChart([390,960,534.3,970.7],riskOSHigh,riskOSLow));
  list.push(riskChart([566.7,956.7,710.7,966.7],riskPFSHigh,riskPFSLow));
  return list;
}

/* ---------- page text & small legend shapes ---------- */
const SANS = '"Liberation Sans", Arial, sans-serif', SERIF = '"Liberation Serif", serif';
function T({ x, y, t, s = 8, a = "l", r = 0, w = 400, c = "#222", f = SANS, ls, sx }: any) {
  const tx = a === "c" ? "-50%" : a === "r" ? "-100%" : "0";
  const origin = a === "l" ? "0 50%" : a === "r" ? "100% 50%" : "50% 50%";
  return <div style={{ position:"absolute", left:x, top:y, whiteSpace:"nowrap", lineHeight:1, fontSize:s, fontWeight:w, color:c, fontFamily:f, letterSpacing:ls,
    transform:`translate(${tx},-50%)${r?` rotate(${r}deg)`:""}${sx?` scaleX(${sx})`:""}`, transformOrigin:origin }}>{t}</div>;
}
function VT(p: any) { // rotated text centred on x,y
  return <T {...p} a="c" r={-90} />;
}
function R({ x, y, w, h, bg, b, rad, img }: any) {
  return <div style={{ position:"absolute", left:x, top:y, width:w, height:h, background:img||bg, border:b, borderRadius:rad, boxSizing:"border-box" }} />;
}
const Dot = ({ x, y, c }: any) => <R x={x-2.5} y={y-2.5} w={5} h={5} bg={c} rad="50%" />;
const PANEL_LETTERS = [["A",1,8],["B",231,8],["C",469,8],["D",2,248],["E",376,248],["F",1,521],["G",338,516],["H",1,812],["I",368,806]];

function Page() {
  return <>
    <R x={335} y={499} w={381} h={294} b="1px solid #8a8a8a" rad={10} />
    {PANEL_LETTERS.map(([l,x,y]: any) => <T key={l} x={x} y={y} t={l} s={13.5} c="#333" />)}
    {/* A B */}
    <T x={92} y={13} t="GSE100186" s={10} a="c" c="#333" />
    <T x={334.7} y={14} t="GSE137836" s={10} a="c" c="#333" />
    <T x={111} y={201.7} t="log2(foldchange)" s={7.6} a="c" c="#333" />
    <T x={343} y={203} t="log2(foldchange)" s={7.6} a="c" c="#333" />
    <VT x={6.7} y={107} t="-log10(p_value)" s={5.4} c="#333" />
    <VT x={240} y={107} t="-log10(p_value)" s={5.4} c="#333" />
    {[[196,207,200,[97.7,105,113,120]],[432.7,444.7,437,[98,106,113,121]]].map(([x0,x1,xd,ys]: any,i) => <React.Fragment key={i}>
      <T x={x0} y={ys[0]} t="State" s={5.6} f={SERIF} c="#333" />
      <Dot x={xd} y={ys[1]} c="#a6d7a4" /><Dot x={xd} y={ys[2]} c="#dcdcdc" /><Dot x={xd} y={ys[3]} c="#eba9a9" />
      <T x={x1} y={ys[1]} t="Down" s={5.8} f={SERIF} c="#333" />
      <T x={x1} y={ys[2]} t="None" s={5.8} f={SERIF} c="#333" />
      <T x={x1} y={ys[3]} t="Up" s={5.8} f={SERIF} c="#333" />
    </React.Fragment>)}
    {/* C */}
    <T x={585.7} y={5} t={vennSets[1]} s={8.6} c="#333" />
    <T x={523.3} y={212} t={vennSets[0]} s={8.6} c="#333" />
    <T x={521.7} y={105} t={vennCounts[0]} s={6.2} w={700} a="c" c="#111" />
    <T x={590.3} y={105} t={vennCounts[1]} s={6.2} w={700} a="c" c="#111" />
    <T x={649} y={105} t={vennCounts[2]} s={6.2} w={700} a="c" c="#111" />
    {/* D */}
    <T x={206.7} y={266} t="Group" s={13.5} />
    {genesD.map((g,i)=><T key={g} x={206.7} y={280+i*12.11} t={g} s={11.2} w={g==="hsa_circ_0020303"?700:400} />)}
    <T x={308} y={261.7} t="Group" s={11} w={700} />
    <R x={308.7} y={275.7} w={12} h={12} bg="#d7191c" /><R x={308.7} y={289} w={12} h={12} bg="#2e78ae" />
    <T x={324.3} y={282.3} t="tumor" s={11} /><T x={324.3} y={295.7} t="normal" s={11} />
    <R x={321.7} y={323.3} w={13.3} h={53.4} img={gradient(LFC_D_STOPS)} />
    <R x={321.7} y={382.7} w={13.3} h={65.6} img={gradient(EXPR_STOPS)} />
    {[["10",325.7],["5",341.7],["0",358],["\u22125",374.3],["2",385],["1",400.3],["0",415.7],["\u22121",431],["\u22122",446.3]].map(([t,y]: any,i)=><T key={i} x={338.3} y={y} t={t} s={10.5} />)}
    <VT x={313.7} y={349} t="lfc" s={11} w={700} />
    <VT x={313.7} y={415} t="Expression" s={11} w={700} />
    <VT x={67} y={478} t="lfc" s={11} w={400} />
    {/* E */}
    <T x={558.7} y={273.3} t="Group" s={11.8} />
    {genesE.map((g,i)=><T key={g} x={558.7} y={286.7+i*11.62} t={g} s={10} w={g==="hsa_circ_0020303"?700:400} />)}
    <T x={652.3} y={267.3} t="Group" s={10} w={700} ls="0.3px" />
    <R x={653} y={276} w={10.7} h={11.3} bg="#d7191c" /><R x={653} y={288.3} w={10.7} h={11.4} bg="#2e78ae" />
    <T x={667} y={281.3} t="metastasis" s={10} /><T x={667} y={294.3} t="primary" s={10} />
    <R x={660.3} y={316} w={12.7} h={75.7} img={gradient(LFC_E_STOPS)} />
    <R x={660.3} y={396.7} w={12.7} h={64.3} img={gradient(EXPR_STOPS)} />
    {[["8",318.3],["6",332.3],["4",346.7],["2",361],["0",375.3],["\u22122",389.3],["2",400],["1",414.3],["0",429],["\u22121",443.7],["\u22122",458.3]].map(([t,y]: any,i)=><T key={i} x={675.7} y={y} t={t} s={9.5} />)}
    <VT x={653} y={355} t="lfc" s={10} w={700} />
    <VT x={653} y={429} t="Expression" s={10} w={700} />
    <VT x={437} y={478} t="lfc" s={11} w={400} />
    {/* F legend */}
    {networkLegend.map(([n,c],i)=><React.Fragment key={n}>
      <R x={266} y={521.5+i*14.6} w={18} h={13} bg={c} />
      <T x={286} y={528+i*14.6} t={n} s={6.6} c="#333" />
    </React.Fragment>)}
    {/* G */}
    <T x={367} y={524} t="Group" s={11} sx={0.76} c="#333" />
    <R x={406.5} y={515} w={0.8} h={19} bg="#333" /><R x={402} y={519} w={10} h={11} bg="#8c79b8" b="0.8px solid #333" /><R x={402} y={524} w={10} h={1} bg="#222" />
    <T x={416.7} y={524} t="Normal" s={10} sx={0.73} c="#333" />
    <R x={448.6} y={515} w={0.8} h={19} bg="#333" /><R x={444} y={519} w={10} h={11} bg="#e9492b" b="0.8px solid #333" /><R x={444} y={524} w={10} h={1} bg="#222" />
    <T x={458.3} y={524} t="Tumor" s={10} sx={0.68} c="#333" />
    <R x={496.3} y={508.3} w={74.4} h={51.7} b="0.8px solid #999" />
    {cancerTable.map(([a,b,c]: any,i)=><React.Fragment key={c}>
      <T x={497.5} y={512+i*6.4} t={<>{a}<span style={{fontSize:2.8}}>{b}</span></>} s={4.4} c="#333" />
      <T x={544.3} y={512+i*6.4} t={c} s={4.4} c="#333" />
    </React.Fragment>)}
    <T x={497.5} y={550.7} t={<>Renal cell carcinoma<span style={{fontSize:2.8}}>(pairs=7):</span></>} s={4.4} c="#333" />
    <T x={518.3} y={557} t="GSE100186/GSE137836" s={4.4} c="#333" />
    <T x={469} y={574} t="**" s={15} a="c" w={700} c="#222" />
    <T x={652} y={510} t="**" s={15} a="c" w={700} c="#222" />
    <VT x={343} y={648} t="hsa_circ_0020303 expression in Pan-cancer" s={7.8} c="#333" />
    <VT x={587} y={560} t="Relative hsa_circ_0020303 expression(-delta CT)" s={3.9} w={700} c="#333" />
    <VT x={590} y={712} t="Relative hsa_circ_0020303 expression(-delta CT)" s={3.9} w={700} c="#333" />
    <T x={655} y={633} t="SYSU cohort" s={6.6} a="c" c="#333" />
    <T x={667} y={786} t="SYSU cohort" s={6.6} a="c" c="#333" />
    <T x={625} y={650.5} t="p=0.0093" s={6.4} a="c" c="#333" />
    {/* H */}
    <T x={105} y={826} t="hsa_circ_0020303 (p=0.047)" s={7.6} w={700} a="c" sx={0.85} c="#222" />
    <T x={275} y={825.7} t="hsa_circ_0020303 (p=0.036)" s={7.6} w={700} a="c" sx={0.85} c="#222" />
    <T x={105} y={988} t="STAGE" s={6.5} a="c" sx={0.85} c="#333" />
    <T x={275.7} y={985.7} t="GRADE" s={6.5} a="c" sx={0.85} c="#333" />
    <VT x={14.3} y={900} t="Gene expression" s={6.6} c="#333" />
    <VT x={185} y={898} t="Gene expression" s={6.6} c="#333" />
    {/* I */}
    <T x={463.7} y={823} t="For OS" s={10.5} a="c" c="#222" />
    <T x={640} y={822.7} t="For PFS" s={10.5} a="c" c="#222" />
    <VT x={371.5} y={889} t="Survival probability" s={6.8} c="#333" />
    <VT x={548} y={889} t="Survival probability" s={6.8} c="#333" />
    <T x={462.3} y={944.3} t="Time(years)" s={6.4} a="c" c="#333" />
    <T x={638.7} y={944.3} t="Time(years)" s={6.4} a="c" c="#333" />
    <T x={399} y={913} t="p=5.126e-05" s={4.4} c="#333" />
    <T x={575.7} y={912.7} t="p=2.584e-02" s={4.4} c="#333" />
    <T x={462.3} y={982.7} t="Time(years)" s={6.4} a="c" c="#333" />
    <T x={638.7} y={978.7} t="Time(years)" s={6.4} a="c" c="#333" />
    <VT x={372.7} y={961.7} t="hsa_circ_0020303" s={3.4} c="#333" />
    <VT x={549} y={961.7} t="hsa_circ_0020303" s={3.4} c="#333" />
    <T x={388} y={962.3} t="High" s={5.4} a="r" c="#e8141c" /><T x={388} y={967.7} t="Low" s={5.4} a="r" c="#1f4fa8" />
    <T x={564.5} y={958} t="High" s={5.4} a="r" c="#e8141c" /><T x={564.5} y={963.3} t="Low" s={5.4} a="r" c="#1f4fa8" />
    {[[425,834,462,472,482.3,492],[601,832.7,638.7,648.3,659,668.3]].map(([x0,y,s1,t1,s2,t2],i)=><React.Fragment key={i}>
      <T x={x0} y={y} t="hsa_circ_0020303" s={3.8} c="#333" />
      <R x={s1} y={y-3.5} w={6.7} h={7} bg="rgba(232,20,28,.27)" /><R x={s1} y={y-0.8} w={6.7} h={1.6} bg="#e8141c" />
      <T x={t1} y={y} t="High" s={3.8} c="#333" />
      <R x={s2} y={y-3.5} w={6.7} h={7} bg="rgba(31,79,168,.27)" /><R x={s2} y={y-0.8} w={6.7} h={1.6} bg="#1f4fa8" />
      <T x={t2} y={y} t="Low" s={3.8} c="#333" />
    </React.Fragment>)}
  </>;
}

export default function App() {
  const host = useRef<HTMLDivElement>(null);
  useEffect(() => {
    const made: any[] = [];
    buildCharts().forEach(({ rect, config }) => {
      const cv = document.createElement("canvas");
      cv.width = Math.round(rect[2]); cv.height = Math.round(rect[3]);
      cv.style.cssText = `position:absolute;left:${rect[0]}px;top:${rect[1]}px;width:${rect[2]}px;height:${rect[3]}px;`;
      host.current!.appendChild(cv);
      made.push({ cv, chart:new Chart(cv, config) });
    });
    return () => made.forEach(({ cv, chart }) => { chart.destroy(); cv.remove(); });
  }, []);
  return <div style={{ position:"absolute", left:0, top:0, width:718, height:992, overflow:"hidden", background:"#fff" }}>
    <div ref={host} style={{ position:"absolute", inset:0 }} />
    <div style={{ position:"absolute", inset:0 }}><Page /></div>
  </div>;
}
